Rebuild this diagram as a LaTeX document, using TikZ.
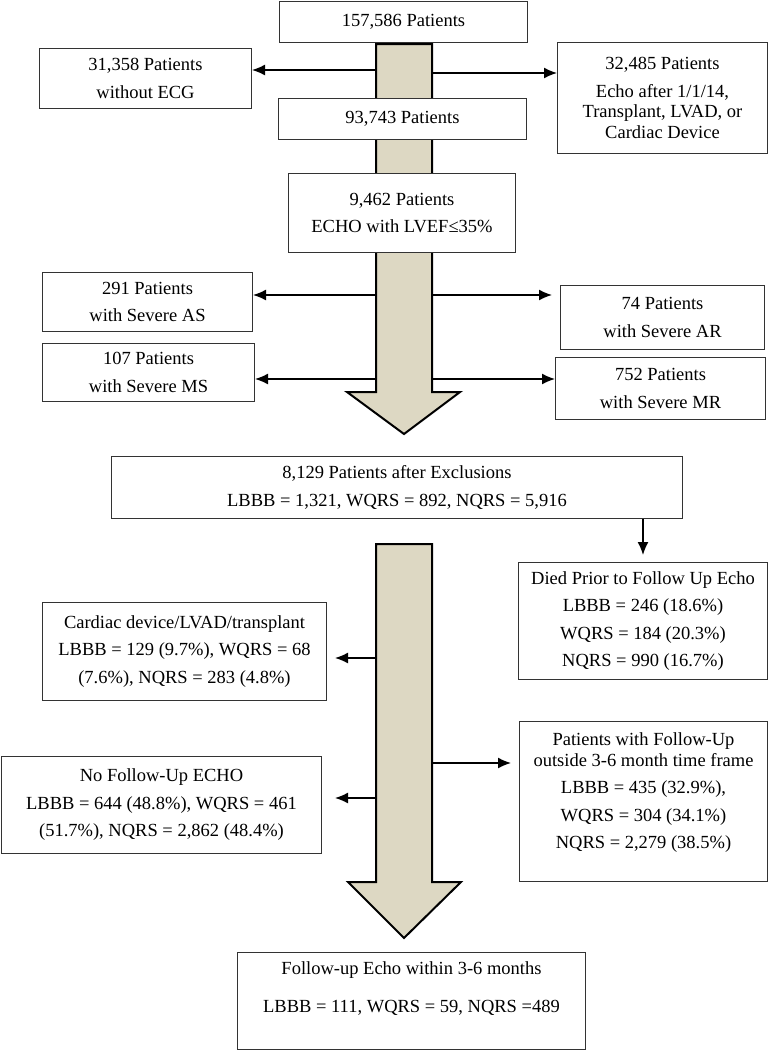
\documentclass[tikz,border=0pt]{standalone}
\usepackage{fontspec}
\setmainfont{Liberation Serif}
\usetikzlibrary{arrows.meta}
\definecolor{shaftfill}{RGB}{221,216,195}
\tikzset{
 box/.style={draw=black!80, line width=1pt, fill=white, align=center, inner sep=0pt, anchor=north west, font=\fontsize{18.5}{27.5}\selectfont},
 arr/.style={line width=1.5pt, -{Latex[length=13pt,width=11pt]}},
 bigarrow/.style={draw=black, line width=2pt, fill=shaftfill, line join=miter},
}
\begin{document}
\begin{tikzpicture}[x=1pt,y=-1pt]
\useasboundingbox (0,0) rectangle (769,1050);
% big arrows
\draw[bigarrow] (376,44) -- (432,44) -- (432,392) -- (460,392) -- (404,434) -- (347,392) -- (376,392) -- cycle;
\draw[bigarrow] (376,544) -- (432,544) -- (432,882) -- (461,882) -- (404,938) -- (348,882) -- (376,882) -- cycle;
% boxes
\node[box, minimum width=248, minimum height=41] (b1) at (279,1) {157,586 Patients};
\node[box, minimum width=212, minimum height=60] (n0) at (39,48) {31,358 Patients\\without ECG};
\node[box, minimum width=210, minimum height=111] (r0) at (557,42) {32,485 Patients\\Echo after 1/1/14,\\[-7pt]Transplant, LVAD, or\\[-7pt]Cardiac Device};
\node[box, minimum width=248, minimum height=41] (b2) at (278,98) {93,743 Patients};
\node[box, minimum width=227, minimum height=79] (b3) at (288,173) {9,462 Patients\\ECHO with LVEF≤35\%};
\node[box, minimum width=210, minimum height=59] (l1) at (42,272) {291 Patients\\with Severe AS};
\node[box, minimum width=204, minimum height=64] (r1) at (560,285) {74 Patients\\with Severe AR};
\node[box, minimum width=212, minimum height=58] (l2) at (42,343) {107 Patients\\with Severe MS};
\node[box, minimum width=210, minimum height=62] (r2) at (555,357) {752 Patients\\with Severe MR};
\node[box, minimum width=571, minimum height=62] (b4) at (111,456) {8,129 Patients after Exclusions\\LBBB = 1,321, WQRS = 892, NQRS = 5,916};
\node[box, minimum width=249, minimum height=117] (d) at (518,562) {Died Prior to Follow Up Echo\\LBBB = 246 (18.6\%)\\WQRS = 184 (20.3\%)\\NQRS = 990 (16.7\%)};
\node[box, minimum width=284, minimum height=98] (c) at (42,602) {Cardiac device/LVAD/transplant\\LBBB = 129 (9.7\%), WQRS = 68\\(7.6\%), NQRS = 283 (4.8\%)};
\node[box, minimum width=248, minimum height=160] (p) at (519,721) {Patients with Follow-Up\\[-7pt]outside 3-6 month time frame\\LBBB = 435 (32.9\%),\\WQRS = 304 (34.1\%)\\NQRS = 2,279 (38.5\%)\\[-6pt]\mbox{}};
\node[box, minimum width=320, minimum height=97] (nf) at (1,756) {No Follow-Up ECHO\\LBBB = 644 (48.8\%), WQRS = 461\\(51.7\%), NQRS = 2,862 (48.4\%)};
\node[box, minimum width=348, minimum height=97] (f) at (237,952) {Follow-up Echo within 3-6 months\\[10pt]LBBB = 111, WQRS = 59, NQRS =489\\\mbox{}};
% connector start points on the big arrow shafts
\coordinate (s1l) at (376,70);
\coordinate (s1r) at (432,73);
\coordinate (s2l) at (376,295);
\coordinate (s2r) at (432,295);
\coordinate (s3l) at (376,379);
\coordinate (s3r) at (432,379);
\coordinate (s4l) at (376,658);
\coordinate (s4r) at (432,763);
\coordinate (s5l) at (376,798);
% connectors
\draw[arr] (s1l) -- (n0.east |- s1l);
\draw[arr] (s1r) -- (r0.west |- s1r);
\draw[arr] (s2l) -- (l1.east |- s2l);
\draw[arr, shorten >=8pt] (s2r) -- (r1.west |- s2r);
\draw[arr] (s3l) -- (l2.east |- s3l);
\draw[arr] (s3r) -- (r2.west |- s3r);
\draw[arr, shorten >=7pt] (d.north |- b4.south) -- (d.north);
\draw[arr, shorten >=8pt] (s4l) -- (c.east |- s4l);
\draw[arr, shorten >=8pt] (s4r) -- (p.west |- s4r);
\draw[arr, shorten >=13pt] (s5l) -- (nf.east |- s5l);
\end{tikzpicture}
\end{document}
